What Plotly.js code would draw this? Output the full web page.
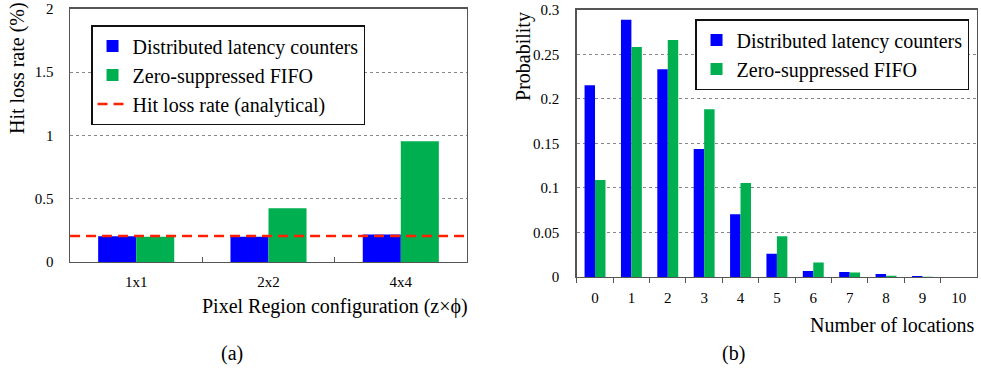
<!DOCTYPE html>
<html>
<head>
<meta charset="utf-8">
<script src="https://cdn.plot.ly/plotly-3.0.1.min.js"></script>
<style>html,body{margin:0;padding:0;background:#fff;}#chart{width:981px;height:370px;}</style>
</head>
<body>
<div id="chart"></div>
<script>
// Panel (a): hit loss rate
const configs = ["1x1", "2x2", "4x4"];
const lossDistributed = [0.203, 0.200, 0.217];
const lossFifo = [0.200, 0.425, 0.955];
const lossAnalytical = 0.205;

// Panel (b): probability of number of locations
const locations = ["0","1","2","3","4","5","6","7","8","9","10"];
const probDistributed = [0.2155, 0.289, 0.2335, 0.1438, 0.0706, 0.0261, 0.0067, 0.0056, 0.0034, 0.0011, 0];
const probFifo = [0.109, 0.2585, 0.2663, 0.1886, 0.1057, 0.0459, 0.0164, 0.0049, 0.0015, 0.0002, 0];

const seriesNames = ["Distributed latency counters", "Zero-suppressed FIFO", "Hit loss rate (analytical)"];
const blue = "#0000ff", green = "#00b050", red = "#ff2200";
const FONT = "Liberation Serif, Times New Roman, serif";

const traces = [
  {type:"bar", x:configs, y:lossDistributed, name:seriesNames[0], marker:{color:blue}, xaxis:"x", yaxis:"y", legend:"legend"},
  {type:"bar", x:configs, y:lossFifo, name:seriesNames[1], marker:{color:green}, xaxis:"x", yaxis:"y", legend:"legend"},
  {type:"scatter", mode:"lines", x:[0,1], y:[lossAnalytical, lossAnalytical], name:seriesNames[2],
   line:{color:red, width:2.5, dash:"10px,6px"}, xaxis:"x3", yaxis:"y", legend:"legend", hoverinfo:"skip"},
  {type:"bar", x:locations, y:probDistributed, name:seriesNames[0], marker:{color:blue}, xaxis:"x2", yaxis:"y2", legend:"legend2"},
  {type:"bar", x:locations, y:probFifo, name:seriesNames[1], marker:{color:green}, xaxis:"x2", yaxis:"y2", legend:"legend2"}
];

const frame = {showline:true, mirror:true, linecolor:"#555", linewidth:1.5, zeroline:false};
const grid = {showgrid:true, gridcolor:"#888", griddash:"dot", gridwidth:1};

const layout = {
  width:981, height:370,
  margin:{l:0, r:0, t:0, b:0},
  paper_bgcolor:"#fff", plot_bgcolor:"#fff",
  font:{family:FONT, size:15, color:"#000"},
  barmode:"group", bargap:0.425, bargroupgap:0,
  xaxis:Object.assign({}, frame, {domain:[0.0714, 0.476], anchor:"y", type:"category", range:[-0.5, 2.5],
    showgrid:false, ticks:"inside", tickson:"boundaries", ticklen:5, tickcolor:"#555", tickfont:{size:15}, ticklabelstandoff:6}),
  xaxis3:{overlaying:"x", anchor:"y", range:[0,1], visible:false, fixedrange:true},
  yaxis:Object.assign({}, frame, grid, {domain:[0.2919, 0.9757], anchor:"x", range:[0,2], dtick:0.5,
    ticks:"outside", ticklen:12, tickcolor:"rgba(0,0,0,0)", tickfont:{size:15}}),
  xaxis2:Object.assign({}, frame, {domain:[0.588, 0.9959], anchor:"y2", type:"category", range:[-0.5, 10.5],
    showgrid:false, ticks:"outside", tickson:"boundaries", ticklen:5, tickcolor:"#555", tickfont:{size:15}, ticklabelstandoff:7}),
  yaxis2:Object.assign({}, frame, grid, {domain:[0.2514, 0.973], anchor:"x2", range:[0,0.3], dtick:0.05,
    ticks:"outside", ticklen:13, tickcolor:"rgba(0,0,0,0)", tickfont:{size:15}}),
  legend:{x:0.0928, y:0.9324, xanchor:"left", yanchor:"top", bgcolor:"#fff", bordercolor:"#111", borderwidth:1.5,
    font:{family:FONT, size:20}, traceorder:"normal"},
  legend2:{x:0.7085, y:0.9486, xanchor:"left", yanchor:"top", bgcolor:"#fff", bordercolor:"#111", borderwidth:1.5,
    font:{family:FONT, size:20}, traceorder:"normal"},
  annotations:[
    {text:"Pixel Region configuration (z×ϕ)", xref:"paper", yref:"paper", x:0.3415, y:0.1703, xanchor:"center", yanchor:"middle", showarrow:false, font:{size:20}},
    {text:"Number of locations", xref:"paper", yref:"paper", x:0.9959, y:0.1216, xanchor:"right", yanchor:"middle", showarrow:false, font:{size:20}},
    {text:"Hit loss rate (%)", xref:"paper", yref:"paper", x:0.0173, y:0.8162, xanchor:"center", yanchor:"middle", textangle:-90, showarrow:false, font:{size:20}},
    {text:"Probability", xref:"paper", yref:"paper", x:0.5331, y:0.8486, xanchor:"center", yanchor:"middle", textangle:-90, showarrow:false, font:{size:20}},
    {text:"(a)", xref:"paper", yref:"paper", x:0.2365, y:0.0459, xanchor:"center", yanchor:"middle", showarrow:false, font:{size:20}},
    {text:"(b)", xref:"paper", yref:"paper", x:0.7472, y:0.0459, xanchor:"center", yanchor:"middle", showarrow:false, font:{size:20}}
  ]
};

Plotly.newPlot("chart", traces, layout, {staticPlot:true, displayModeBar:false});
</script>
</body>
</html>
